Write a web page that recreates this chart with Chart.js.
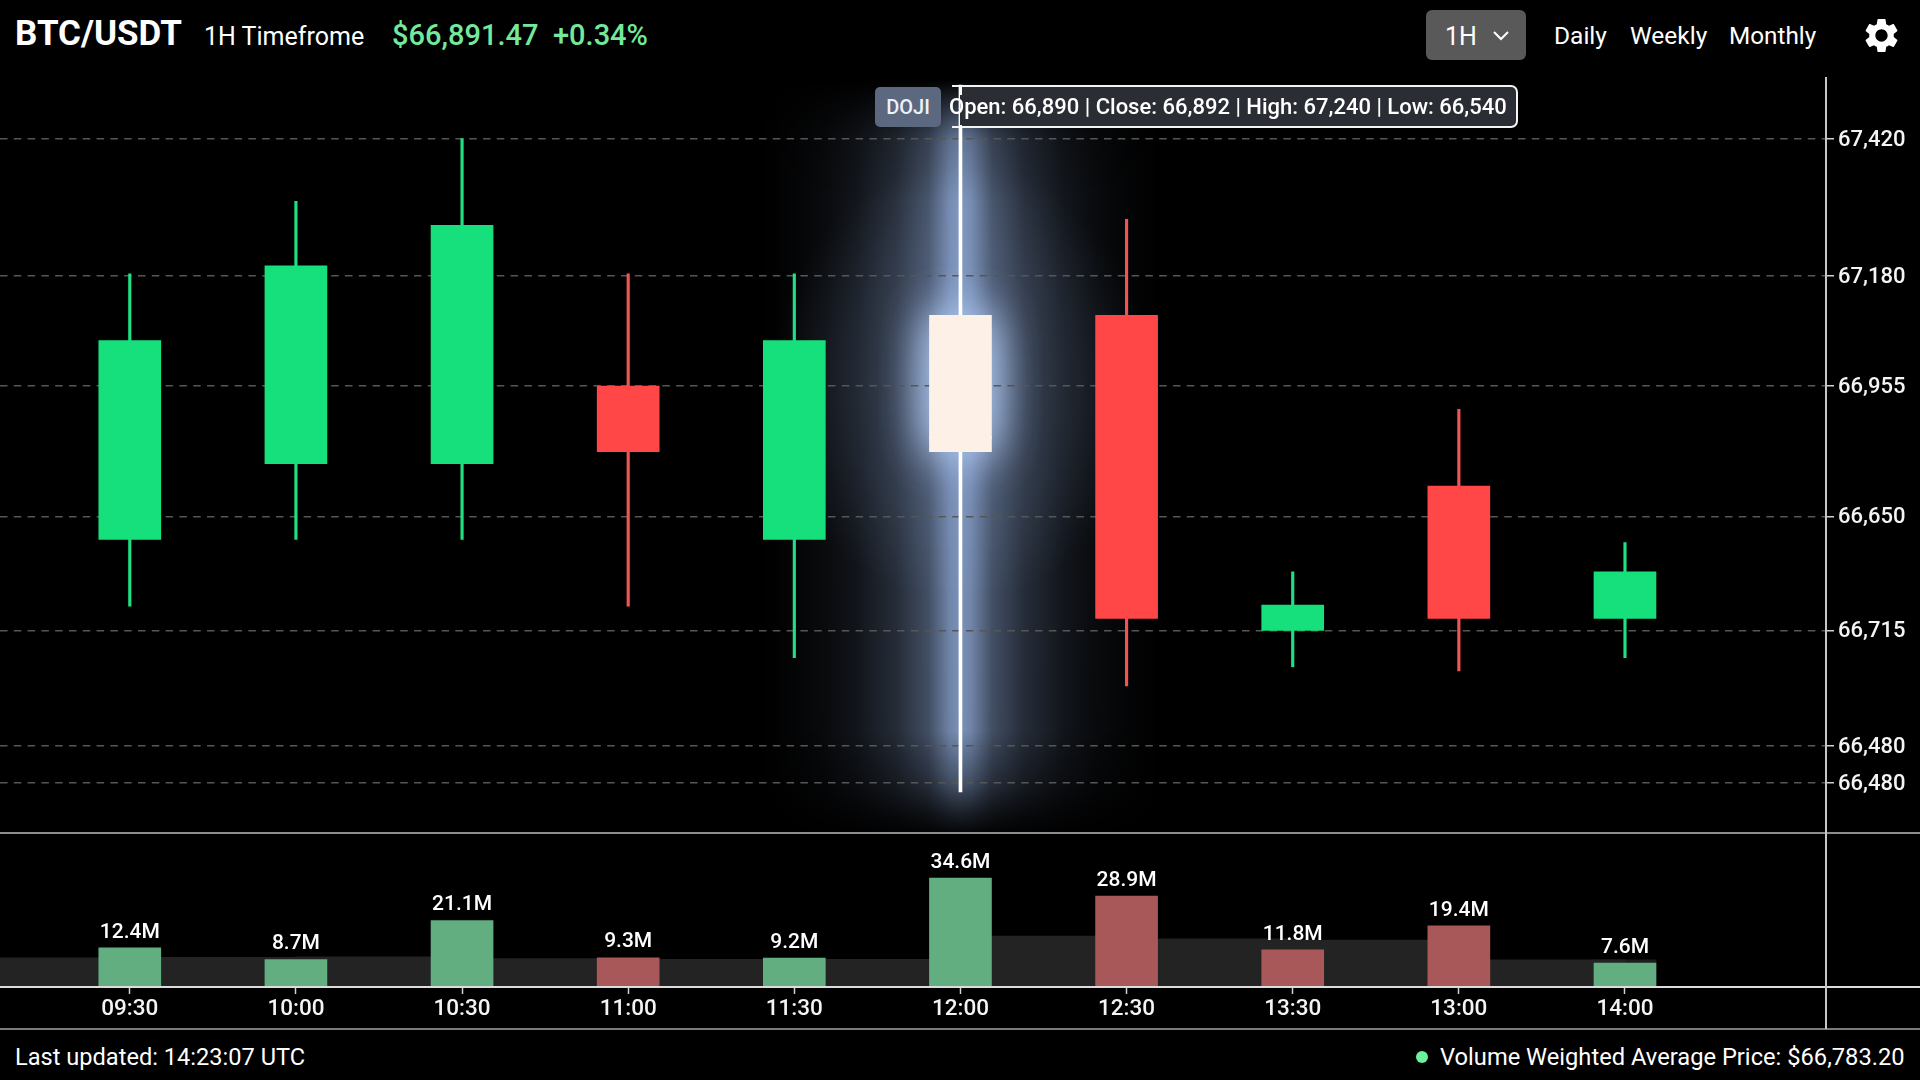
<!DOCTYPE html>
<html lang="en">
<head>
<meta charset="utf-8">
<title>BTC/USDT 1H</title>
<script src="https://cdn.jsdelivr.net/npm/chart.js@4/dist/chart.umd.js"></script>
<style>
  html, body { margin: 0; padding: 0; background: #000; width: 1920px; height: 1080px; overflow: hidden; }
  body { position: relative; font-family: Roboto, sans-serif; color: #fff; }
  .t { position: absolute; white-space: nowrap; line-height: 1; }
  canvas { position: absolute; left: 0; display: block; }
  .rule { position: absolute; }
  #priceCanvas { top: 77px; }
  #volumeCanvas { top: 833px; }
  #tfButton { position: absolute; left: 1426px; top: 10px; width: 100px; height: 50px; background: #595959; border-radius: 6px; }
  #tooltipBox { position: absolute; left: 960px; top: 85px; width: 556px; height: 39px; background: #2a2d33; border: 2px solid #f4f4f4; border-left: none; border-radius: 0 7px 7px 0; }
  #dojiBadge { position: absolute; left: 875px; top: 87px; width: 66px; height: 40px; background: #5b6880; border-radius: 5px; font-weight: 500; font-size: 20px; line-height: 40px; text-align: center; color: #eef1f6; }
</style>
</head>
<body>
<canvas id="priceCanvas" width="1920" height="756"></canvas>
<canvas id="volumeCanvas" width="1920" height="196"></canvas>

<div class="t" style="left:15px;top:16px;font-size:35px;font-weight:700">BTC/USDT</div>
<div class="t" style="left:204px;top:24px;font-size:25px">1H Timefrome</div>
<div class="t" id="lastPrice" style="left:392px;top:21px;font-size:29px;font-weight:500;color:#74e99b"></div>
<div class="t" id="lastChange" style="left:553px;top:21px;font-size:29px;font-weight:500;color:#74e99b"></div>

<div id="tfButton"></div>
<div class="t" style="left:1445px;top:24px;font-size:25px">1H</div>
<svg style="position:absolute;left:1492px;top:28px" width="18" height="14" viewBox="0 0 18 14"><path d="M2 4 L9 11 L16 4" fill="none" stroke="#fff" stroke-width="2"/></svg>
<div class="t" style="left:1554px;top:24px;font-size:24.5px">Daily</div>
<div class="t" style="left:1630px;top:24px;font-size:24.5px">Weekly</div>
<div class="t" style="left:1729px;top:24px;font-size:24.3px">Monthly</div>
<svg style="position:absolute;left:1861px;top:15px" width="41" height="41" viewBox="0 0 24 24"><path fill="#fff" d="M19.14 12.94c.04-.3.06-.61.06-.94 0-.32-.02-.64-.07-.94l2.03-1.58c.18-.14.23-.41.12-.61l-1.92-3.32c-.12-.22-.37-.29-.59-.22l-2.39.96c-.5-.38-1.03-.7-1.62-.94l-.36-2.54c-.04-.24-.24-.41-.48-.41h-3.84c-.24 0-.43.17-.47.41l-.36 2.54c-.59.24-1.13.57-1.62.94l-2.39-.96c-.22-.08-.47 0-.59.22L2.74 8.87c-.12.21-.08.47.12.61l2.03 1.58c-.05.3-.09.63-.09.94s.02.64.07.94l-2.03 1.58c-.18.14-.23.41-.12.61l1.92 3.32c.12.22.37.29.59.22l2.39-.96c.5.38 1.03.7 1.62.94l.36 2.54c.05.24.24.41.48.41h3.84c.24 0 .44-.17.47-.41l.36-2.54c.59-.24 1.13-.56 1.62-.94l2.39.96c.22.08.47 0 .59-.22l1.92-3.32c.12-.22.07-.47-.12-.61l-2.01-1.58zM12 15.6c-1.98 0-3.6-1.62-3.6-3.6s1.62-3.6 3.6-3.6 3.6 1.62 3.6 3.6-1.62 3.6-3.6 3.6z"/></svg>

<div id="tooltipBox"></div>
<!-- Tooltip corner: border stubs left of the fill, and the wick crossing its edges -->
<div class="rule" style="left:952px;top:85px;width:9px;height:2px;background:#f4f4f4"></div>
<div class="rule" style="left:952px;top:126px;width:9px;height:2px;background:#f4f4f4"></div>
<div class="rule" style="left:958.5px;top:85px;width:3px;height:10px;background:#fff"></div>
<div class="rule" style="left:958.5px;top:125px;width:3px;height:5px;background:#fff"></div>
<div id="dojiBadge">DOJI</div>
<div class="t" id="tooltipText" style="left:949px;top:96px;font-size:22px;font-weight:500"></div>

<!-- Panel separators and the price rail -->
<div class="rule" style="left:0;top:832px;width:1920px;height:2px;background:#8c8c8c"></div>
<div class="rule" style="left:0;top:1028px;width:1920px;height:2px;background:#7a7a7a"></div>
<div class="rule" style="left:0;top:986px;width:1920px;height:2px;background:#dcdcdc"></div>
<div class="rule" style="left:1825px;top:77px;width:2px;height:952px;background:#c6c6c6"></div>

<div class="t" style="left:15px;top:1046px;font-size:23.6px">Last updated: 14:23:07 UTC</div>
<div class="rule" style="left:1416px;top:1051px;width:12px;height:12px;border-radius:50%;background:#6df09a"></div>
<div class="t" id="vwapText" style="left:1440px;top:1046px;font-size:23.7px"></div>

<script>
// Session figures shown in the header and footer
const lastPrice = 66891.47;
const lastChangePct = 0.34;
const vwap = 66783.20;

// One entry per candle, left to right
const categories = ['09:30', '10:00', '10:30', '11:00', '11:30', '12:00', '12:30', '13:30', '13:00', '14:00'];
const openPrices  = [66790, 66865, 66865, 66942, 66790, 66890, 67012, 66700, 66843, 66712];
const closePrices = [66987, 67061, 67101, 66877, 66987, 66892, 66712, 66725, 66712, 66758];
const highPrices  = [67053, 67125, 67187, 67053, 67053, 67240, 67107, 66758, 66919, 66787];
const lowPrices   = [66724, 66790, 66790, 66724, 66673, 66540, 66645, 66664, 66660, 66673];

// The doji candle and the block that highlights it
const dojiIndex = 5;
const dojiBlockRange = [66877, 67012];

// Price axis: where each gridline sits and the label it carries
const priceTickPositions = [67186.5, 67051.4, 66942, 66813, 66700, 66585.5, 66549];
const priceTickLabels = ['67,420', '67,180', '66,955', '66,650', '66,715', '66,480', '66,480'];

// Volume panel, in millions; the band value applies to the gap leading up to each candle
const volumeMillions = [12.4, 8.7, 21.1, 9.3, 9.2, 34.6, 28.9, 11.8, 19.4, 7.6];
const volumeRising = [true, true, true, false, true, true, false, false, false, true];
const bandMillions = [9.3, 9.4, 9.6, 9.0, 8.8, 8.8, 16.2, 15.3, 14.9, 8.6];

const FONT = 'Roboto, sans-serif';
const GREEN = '#16e07c', RED = '#ff4747', CREAM = '#fdf1e7';
const VOL_GREEN = '#62ae80', VOL_RED = '#a85858';
const HALO = '150,178,226';

const money = (v, d = 0) => v.toLocaleString('en-US', { minimumFractionDigits: d, maximumFractionDigits: d });

document.getElementById('lastPrice').textContent = '$' + money(lastPrice, 2);
document.getElementById('lastChange').textContent = '+' + lastChangePct.toFixed(2) + '%';
document.getElementById('vwapText').textContent = 'Volume Weighted Average Price: $' + money(vwap, 2);
document.getElementById('tooltipText').textContent =
  `Open: ${money(openPrices[dojiIndex])} | Close: ${money(closePrices[dojiIndex])} | High: ${money(highPrices[dojiIndex])} | Low: ${money(lowPrices[dojiIndex])}`;

// Shared horizontal range so both panels line up candle for candle
const X_MIN = -0.7813, X_MAX = 10.21;
const isDoji = i => i === dojiIndex;
const candleColor = i => isDoji(i) ? CREAM : (closePrices[i] >= openPrices[i] ? GREEN : RED);

const wickData = categories.map((_, i) => ({ x: i, y: [lowPrices[i], highPrices[i]] })).filter(p => !isDoji(p.x));
const bodyData = categories.map((_, i) => ({ x: i, y: [openPrices[i], closePrices[i]] }));

// Axes reserve no room beyond the plot, so the plot fills its canvas exactly
const noScalePadding = scale => {
  scale.paddingTop = scale.paddingBottom = scale.paddingLeft = scale.paddingRight = 0;
};

// Light halo behind the doji: a wide column that fades sideways and towards its ends,
// a soft wash around the highlight block, and a tight bloom on the block's edges.
const dojiGlow = {
  id: 'dojiGlow',
  beforeDraw(chart) {
    const { ctx, scales: { x, y }, width, height } = chart;
    const cx = x.getPixelForValue(dojiIndex);
    const topY = y.getPixelForValue(highPrices[dojiIndex]);
    const botY = y.getPixelForValue(lowPrices[dojiIndex]);
    const reach = 200;

    const off = document.createElement('canvas');
    off.width = width; off.height = height;
    const g = off.getContext('2d');
    const side = g.createLinearGradient(cx - reach, 0, cx + reach, 0);
    const falloff = [[0, 0.85], [0.026, 0.78], [0.08, 0.46], [0.16, 0.26], [0.26, 0.12], [0.34, 0.06], [0.42, 0.022], [0.5, 0]];
    falloff.forEach(([d, a]) => {
      side.addColorStop(0.5 - d, `rgba(${HALO},${a})`);
      side.addColorStop(0.5 + d, `rgba(${HALO},${a})`);
    });
    g.fillStyle = side;
    g.fillRect(cx - reach, 0, reach * 2, height);
    g.globalCompositeOperation = 'destination-in';
    const along = g.createLinearGradient(0, topY - 5, 0, botY + 45);
    along.addColorStop(0, 'rgba(0,0,0,0)');
    along.addColorStop(0.03, 'rgba(0,0,0,0.3)');
    along.addColorStop(0.08, 'rgba(0,0,0,0.8)');
    along.addColorStop(0.16, 'rgba(0,0,0,1)');
    along.addColorStop(0.86, 'rgba(0,0,0,0.95)');
    along.addColorStop(0.93, 'rgba(0,0,0,0.55)');
    along.addColorStop(0.97, 'rgba(0,0,0,0.2)');
    along.addColorStop(1, 'rgba(0,0,0,0)');
    g.fillStyle = along;
    g.fillRect(0, 0, width, height);
    ctx.drawImage(off, 0, 0);

    const blockTop = y.getPixelForValue(dojiBlockRange[1]);
    const blockBot = y.getPixelForValue(dojiBlockRange[0]);
    const midY = (blockTop + blockBot) / 2;

    // Soft wash around the block
    ctx.save();
    ctx.translate(cx, midY);
    ctx.scale(1, 1.15);
    const wash = ctx.createRadialGradient(0, 0, 20, 0, 0, 190);
    wash.addColorStop(0, `rgba(${HALO},0.22)`);
    wash.addColorStop(0.6, `rgba(${HALO},0.1)`);
    wash.addColorStop(1, `rgba(${HALO},0)`);
    ctx.fillStyle = wash;
    ctx.fillRect(-190, -190, 380, 380);
    ctx.restore();

    // Tight bloom on the block's edges
    ctx.save();
    ctx.shadowColor = 'rgba(172,196,235,1)';
    ctx.shadowBlur = 48;
    ctx.fillStyle = CREAM;
    ctx.fillRect(cx - 29, blockTop + 2, 58, blockBot - blockTop - 4);
    ctx.fillRect(cx - 29, blockTop + 2, 58, blockBot - blockTop - 4);
    ctx.restore();
  }
};

new Chart(document.getElementById('priceCanvas'), {
  type: 'bar',
  data: {
    datasets: [
      { label: 'Wick', data: wickData, grouped: false, barThickness: 2.5, order: 4,
        backgroundColor: wickData.map(p => closePrices[p.x] >= openPrices[p.x] ? '#1fe082' : '#f25353') },
      { label: 'Doji wick', data: [{ x: dojiIndex, y: [lowPrices[dojiIndex], highPrices[dojiIndex]] }], grouped: false, barThickness: 3, order: 3,
        backgroundColor: '#ffffff' },
      { label: 'Body', data: bodyData, grouped: false, barThickness: 62, order: 2,
        backgroundColor: categories.map((_, i) => candleColor(i)) },
      { label: 'Doji block', data: [{ x: dojiIndex, y: dojiBlockRange }], grouped: false, barThickness: 62, order: 1,
        backgroundColor: CREAM }
    ]
  },
  options: {
    responsive: false,
    animation: false,
    layout: { padding: 0 },
    plugins: { legend: { display: false }, tooltip: { enabled: false } },
    scales: {
      x: { type: 'linear', min: X_MIN, max: X_MAX, offset: false, display: false, grid: { offset: false, display: false } },
      y: {
        position: 'right',
        min: 66499.4, max: 67248,
        afterFit(scale) { scale.width = 94; noScalePadding(scale); },
        afterBuildTicks(scale) { scale.ticks = priceTickPositions.map(value => ({ value })); },
        border: { display: false, dash: [7.5, 6.3] },
        grid: { color: '#565656', lineWidth: 1.5, tickColor: '#d0d0d0', tickLength: 8, tickWidth: 1.5, tickBorderDash: [] },
        ticks: {
          autoSkip: false, padding: 4, color: '#f4f4f4', labelOffset: 1.5,
          font: { family: FONT, size: 22, weight: '500' },
          callback: (value, index) => priceTickLabels[index]
        }
      }
    }
  },
  plugins: [dojiGlow]
});

// Volume figures printed above each bar
const volumeLabels = {
  id: 'volumeLabels',
  afterDatasetsDraw(chart) {
    const { ctx } = chart;
    const bars = chart.getDatasetMeta(2).data;
    ctx.save();
    ctx.fillStyle = '#ffffff';
    ctx.font = `500 21px ${FONT}`;
    ctx.textAlign = 'center';
    ctx.textBaseline = 'bottom';
    bars.forEach((bar, i) => ctx.fillText(volumeMillions[i].toFixed(1) + 'M', bar.x, bar.y - 5));
    ctx.restore();
  }
};

const lastIndex = categories.length - 1;
new Chart(document.getElementById('volumeCanvas'), {
  type: 'bar',
  data: {
    datasets: [
      { label: 'Band', data: bandMillions.map((v, i) => ({ x: i - 0.5, y: v })), grouped: false, barThickness: 167, order: 3,
        backgroundColor: '#232323' },
      { label: 'Band end', data: [{ x: lastIndex, y: bandMillions[lastIndex] }], grouped: false, barThickness: 62, order: 3,
        backgroundColor: '#1e1e1e' },
      { label: 'Volume', data: volumeMillions.map((v, i) => ({ x: i, y: v })), grouped: false, barThickness: 62, order: 1,
        backgroundColor: volumeRising.map(up => up ? VOL_GREEN : VOL_RED) }
    ]
  },
  options: {
    responsive: false,
    animation: false,
    layout: { padding: 0 },
    plugins: { legend: { display: false }, tooltip: { enabled: false } },
    scales: {
      x: {
        type: 'linear', min: X_MIN, max: X_MAX, offset: false,
        afterFit(scale) { scale.height = 42; noScalePadding(scale); },
        afterBuildTicks(scale) { scale.ticks = categories.map((_, value) => ({ value })); },
        border: { display: false },
        grid: { offset: false, drawOnChartArea: false, tickColor: '#d0d0d0', tickLength: 7, tickWidth: 1.5 },
        ticks: {
          autoSkip: false, maxRotation: 0, padding: 1.5, color: '#f4f4f4',
          font: { family: FONT, size: 22.5, weight: '500' },
          callback: value => categories[value]
        }
      },
      y: {
        position: 'right', min: 0, max: 48.9,
        afterFit(scale) { scale.width = 94; noScalePadding(scale); },
        border: { display: false },
        grid: { display: false },
        ticks: { display: false }
      }
    }
  },
  plugins: [volumeLabels]
});
</script>
</body>
</html>
